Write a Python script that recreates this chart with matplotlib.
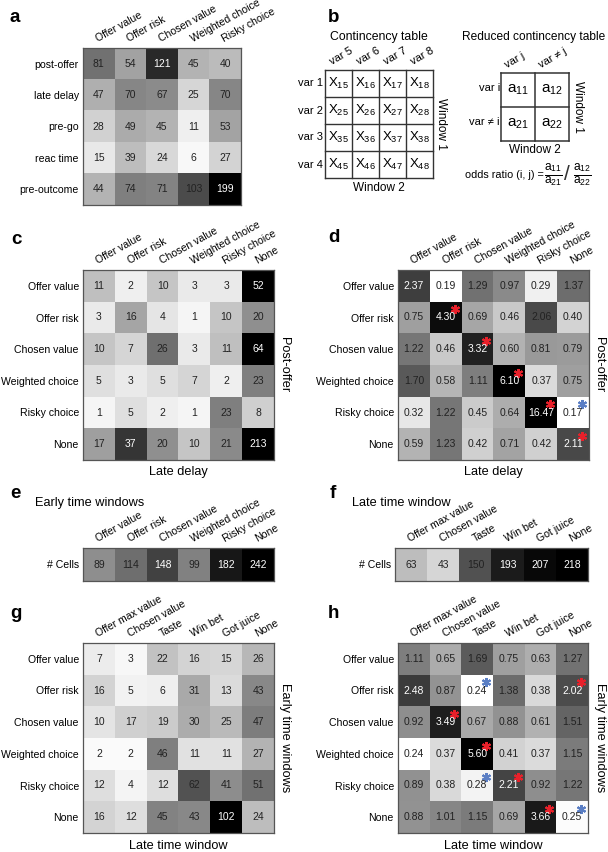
import numpy as np
import matplotlib
matplotlib.use("Agg")
import matplotlib.pyplot as plt
from matplotlib.colors import Normalize, LogNorm

plt.rcParams["font.family"] = ["Liberation Sans", "DejaVu Sans"]
plt.rcParams["mathtext.fontset"] = "custom"
plt.rcParams["mathtext.rm"] = "Liberation Sans"
plt.rcParams["mathtext.it"] = "Liberation Sans"
plt.rcParams["mathtext.default"] = "regular"

# ---- data ----
a_rows = ["post-offer", "late delay", "pre-go", "reac time", "pre-outcome"]
a_cols = ["Offer value", "Offer risk", "Chosen value", "Weighted choice", "Risky choice"]
a_vals = [[81, 54, 121, 45, 40],
          [47, 70, 67, 25, 70],
          [28, 49, 45, 11, 53],
          [15, 39, 24, 6, 27],
          [44, 74, 71, 103, 199]]

early_vars = ["Offer value", "Offer risk", "Chosen value", "Weighted choice", "Risky choice", "None"]
late_vars = ["Offer max value", "Chosen value", "Taste", "Win bet", "Got juice", "None"]

c_vals = [[11, 2, 10, 3, 3, 52],
          [3, 16, 4, 1, 10, 20],
          [10, 7, 26, 3, 11, 64],
          [5, 3, 5, 7, 2, 23],
          [1, 5, 2, 1, 23, 8],
          [17, 37, 20, 10, 21, 213]]

d_vals = [[2.37, 0.19, 1.29, 0.97, 0.29, 1.37],
          [0.75, 4.30, 0.69, 0.46, 2.06, 0.40],
          [1.22, 0.46, 3.32, 0.60, 0.81, 0.79],
          [1.70, 0.58, 1.11, 6.10, 0.37, 0.75],
          [0.32, 1.22, 0.45, 0.64, 16.47, 0.17],
          [0.59, 1.23, 0.42, 0.71, 0.42, 2.11]]
# 1 = significantly high (red star), -1 = significantly low (blue star)
d_sig = [[0, 0, 0, 0, 0, 0],
         [0, 1, 0, 0, 0, 0],
         [0, 0, 1, 0, 0, 0],
         [0, 0, 0, 1, 0, 0],
         [0, 0, 0, 0, 1, -1],
         [0, 0, 0, 0, 0, 1]]

e_vals = [89, 114, 148, 99, 182, 242]
f_vals = [63, 43, 150, 193, 207, 218]

g_vals = [[7, 3, 22, 16, 15, 26],
          [16, 5, 6, 31, 13, 43],
          [10, 17, 19, 30, 25, 47],
          [2, 2, 46, 11, 11, 27],
          [12, 4, 12, 62, 41, 51],
          [16, 12, 45, 43, 102, 24]]

h_vals = [[1.11, 0.65, 1.69, 0.75, 0.63, 1.27],
          [2.48, 0.87, 0.24, 1.38, 0.38, 2.02],
          [0.92, 3.49, 0.67, 0.88, 0.61, 1.51],
          [0.24, 0.37, 5.60, 0.41, 0.37, 1.15],
          [0.89, 0.38, 0.28, 2.21, 0.92, 1.22],
          [0.88, 1.01, 1.15, 0.69, 3.66, 0.25]]
h_sig = [[0, 0, 0, 0, 0, 0],
         [0, 0, -1, 0, 0, 1],
         [0, 1, 0, 0, 0, 0],
         [0, 0, 1, 0, 0, 0],
         [0, 0, -1, 1, 0, 0],
         [0, 0, 0, 0, 1, -1]]

W, H = 608, 852
fig = plt.figure(figsize=(W / 100, H / 100), dpi=100)

RED = "#e8202a"
BLUE = "#5a7ec4"
TXT = "#222222"


def px_axes(x0, y0, x1, y1):
    return fig.add_axes([x0 / W, 1 - y1 / H, (x1 - x0) / W, (y1 - y0) / H])


def ftext(x, y, s, **kw):
    return fig.text(x / W, 1 - y / H, s, **kw)


def heatmap(box, vals, norm, rows, cols, fmt="{:d}", sig=None, thr=0.74):
    ax = px_axes(*box)
    data = np.atleast_2d(np.array(vals))
    ax.imshow(data, cmap="gray_r", norm=norm, aspect="auto", interpolation="nearest")
    nr, nc = data.shape
    for i in range(nr):
        for j in range(nc):
            v = data[i, j]
            frac = float(norm(v))
            s = sig[i][j] if sig is not None else 0
            col = "white" if (frac >= thr or s == 1) else TXT
            ax.text(j, i, fmt.format(v), ha="center", va="center", fontsize=7.5, color=col)
            if s != 0:
                ax.plot(j + 0.28, i - 0.26, marker=(6, 2, 0), ms=6.5, mew=1.5,
                        color=RED if s == 1 else BLUE)
    ax.set_xticks(range(nc))
    ax.set_xticklabels(cols, rotation=29, ha="left", rotation_mode="anchor", fontsize=7.6)
    ax.set_yticks(range(nr))
    ax.set_yticklabels(rows, fontsize=7.6)
    ax.xaxis.tick_top()
    ax.tick_params(length=0)
    ax.tick_params(axis="x", pad=3)
    ax.tick_params(axis="y", pad=3)
    for sp in ax.spines.values():
        sp.set_color("#555555")
        sp.set_linewidth(0.9)
    return ax


# ---- panel a ----
heatmap((83, 48, 241, 205), a_vals, Normalize(vmin=2, vmax=145), a_rows, a_cols)

# ---- panel c ----
heatmap((83, 270, 274, 460), c_vals, Normalize(vmin=-1, vmax=47), early_vars, early_vars)
ftext(178, 472, "Late delay", ha="center", va="center", fontsize=9.2)
ftext(284, 365, "Post-offer", ha="center", va="center", rotation=270, fontsize=9.2)

# ---- panel d ----
heatmap((398, 270, 589, 460), d_vals, LogNorm(vmin=0.24, vmax=5.0), early_vars, early_vars,
        fmt="{:.2f}", sig=d_sig)
ftext(493, 472, "Late delay", ha="center", va="center", fontsize=9.2)
ftext(599, 365, "Post-offer", ha="center", va="center", rotation=270, fontsize=9.2)

# ---- panel e / f ----
heatmap((83, 548, 274, 581), [e_vals], Normalize(vmin=0, vmax=200), ["# Cells"], early_vars)
ftext(35, 503, "Early time windows", ha="left", va="center", fontsize=9.2)
heatmap((395, 548, 588, 581), [f_vals], Normalize(vmin=10, vmax=215), ["# Cells"], late_vars)
ftext(352, 503, "Late time window", ha="left", va="center", fontsize=9.2)

# ---- panel g ----
heatmap((83, 643, 274, 833), g_vals, Normalize(vmin=0, vmax=92), early_vars, late_vars)
ftext(178, 846, "Late time window", ha="center", va="center", fontsize=9.2)
ftext(285, 738, "Early time windows", ha="center", va="center", rotation=270, fontsize=9.2)

# ---- panel h ----
heatmap((398, 643, 588, 833), h_vals, LogNorm(vmin=0.24, vmax=5.0), early_vars, late_vars,
        fmt="{:.2f}", sig=h_sig)
ftext(493, 846, "Late time window", ha="center", va="center", fontsize=9.2)
ftext(600, 738, "Early time windows", ha="center", va="center", rotation=270, fontsize=9.2)

# ---- panel b: schematic contingency tables ----
axb = px_axes(300, 0, 608, 200)
axb.set_xlim(300, 608)
axb.set_ylim(200, 0)
axb.axis("off")

ct_rows = ["var 1", "var 2", "var 3", "var 4"]
ct_cols = ["var 5", "var 6", "var 7", "var 8"]
x0, y0, cs = 325, 70, 27
n = len(ct_rows)
for k in range(n + 1):
    axb.plot([x0, x0 + n * cs], [y0 + k * cs] * 2, color="#333333", lw=1.0)
    axb.plot([x0 + k * cs] * 2, [y0, y0 + n * cs], color="#333333", lw=1.0)
for i, r in enumerate(ct_rows):
    axb.text(x0 - 2, y0 + (i + 0.5) * cs, r, ha="right", va="center", fontsize=8)
    for j, c in enumerate(ct_cols):
        sub = r.split()[1] + c.split()[1]
        axb.text(x0 + (j + 0.5) * cs, y0 + (i + 0.5) * cs, "X$_{%s}$" % sub,
                 ha="center", va="center", fontsize=9.5)
for j, c in enumerate(ct_cols):
    axb.text(x0 + (j + 0.3) * cs, y0 - 3, c, rotation=30, ha="left", va="bottom",
             rotation_mode="anchor", fontsize=8)
axb.text(x0 + n * cs / 2, 37, "Contincency table", ha="center", va="center", fontsize=8.8)
axb.text(x0 + n * cs / 2, y0 + n * cs + 10, "Window 2", ha="center", va="center", fontsize=8.5)
axb.text(x0 + n * cs + 8, y0 + n * cs / 2, "Window 1", ha="center", va="center",
         rotation=270, fontsize=8.5)

rt_rows = ["var i", "var \u2260 i"]
rt_cols = ["var j", "var \u2260 j"]
rx0, ry0, rcs = 501, 73, 34
m = len(rt_rows)
for k in range(m + 1):
    axb.plot([rx0, rx0 + m * rcs], [ry0 + k * rcs] * 2, color="#333333", lw=1.1)
    axb.plot([rx0 + k * rcs] * 2, [ry0, ry0 + m * rcs], color="#333333", lw=1.1)
for i, r in enumerate(rt_rows):
    axb.text(rx0 - 1, ry0 + (i + 0.45) * rcs, r, ha="right", va="center", fontsize=8)
    for j in range(m):
        axb.text(rx0 + (j + 0.5) * rcs, ry0 + (i + 0.5) * rcs, "a$_{%d%d}$" % (i + 1, j + 1),
                 ha="center", va="center", fontsize=11)
for j, c in enumerate(rt_cols):
    axb.text(rx0 + (j + 0.2) * rcs, ry0 - 3, c, rotation=30, ha="left", va="bottom",
             rotation_mode="anchor", fontsize=8)
axb.text(534, 37, "Reduced contincency table", ha="center", va="center", fontsize=8.6)
axb.text(rx0 + rcs, ry0 + m * rcs + 9, "Window 2", ha="center", va="center", fontsize=8.5)
axb.text(rx0 + m * rcs + 9, ry0 + m * rcs / 2, "Window 1", ha="center", va="center",
         rotation=270, fontsize=8.5)
axb.text(465, 175, "odds ratio (i, j) =", ha="left", va="center", fontsize=7.8)
axb.text(553, 175, r"$\frac{a_{11}}{a_{21}}$", ha="center", va="center", fontsize=12.5)
axb.text(567, 175, "/", ha="center", va="center", fontsize=15, color="#333333")
axb.text(582, 175, r"$\frac{a_{12}}{a_{22}}$", ha="center", va="center", fontsize=12.5)

# ---- panel letters ----
for lab, x, y in [("a", 10, 17), ("b", 328, 17), ("c", 11, 239), ("d", 328, 238),
                  ("e", 10, 493), ("f", 330, 493), ("g", 10, 613), ("h", 328, 613)]:
    ftext(x, y, lab, ha="left", va="center", fontsize=13.5, fontweight="bold")

fig.savefig("out.png", dpi=100)
